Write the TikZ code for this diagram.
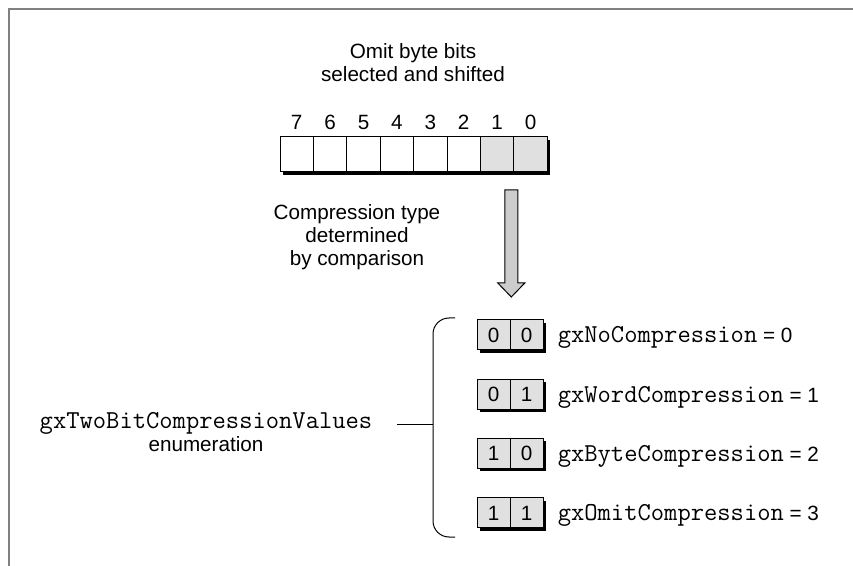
\documentclass[tikz,border=0pt]{standalone}
\usepackage{fontspec}
\setmainfont{Liberation Sans}
\setmonofont[Scale=1.25]{Latin Modern Mono}
\usetikzlibrary{shadows,calc}

\begin{document}
\begin{tikzpicture}[x=0.75pt,y=-0.75pt,
    every node/.style={font=\fontsize{15.5}{17.25}\selectfont},
    bitcell/.style={draw,line width=0.75pt,fill=white,inner sep=0pt,
      minimum width=25.05pt,minimum height=26.25pt,
      drop shadow={shadow xshift=2pt,shadow yshift=-2pt,opacity=1,fill=black}},
    pickcell/.style={bitcell,fill=black!12},
    valcell/.style={bitcell,fill=black!12,minimum width=24.75pt,minimum height=22.5pt},
    frameline/.style={draw=black!50,line width=1pt}]

  \useasboundingbox (0,0) rectangle (853,566);
  \draw[frameline] (9,566) -- (9,9) -- (853,9);

  \path (413,63) node [align=center](title){Omit byte bits\\selected and shifted};

  % the byte, bit 7 on the left
  \foreach \bit in {7,...,0}{
    \pgfmathsetmacro{\cx}{280+33.4*(7-\bit+0.5)}
    \ifnum\bit<2
      \path (\cx,154.5) node [pickcell](bit_\bit){};
    \else
      \path (\cx,154.5) node [bitcell](bit_\bit){};
    \fi
    \path (\cx,122) node (num_\bit){\bit};
  }

  \path (357,237) node [align=center](note){Compression type\\determined\\by comparison};

  % fat arrow from the two low bits down to the values
  \coordinate (arr_top) at ($(bit_0.west)+(-2,35.5)$);
  \coordinate (arr_tip) at ($(arr_top)+(0,107)$);
  \draw[fill=black!20,line width=0.75pt]
    ($(arr_top)+(-6.5,0)$) -- ($(arr_top)+(6.5,0)$) -- ($(arr_tip)+(6.5,-14)$)
    -- ($(arr_tip)+(13.5,-14)$) -- (arr_tip) -- ($(arr_tip)+(-13.5,-14)$)
    -- ($(arr_tip)+(-6.5,-14)$) -- cycle;

  % two-bit values
  \foreach \hi/\lo/\name [count=\row from 0] in {0/0/No,0/1/Word,1/0/Byte,1/1/Omit}{
    \pgfmathsetmacro{\cy}{335+59.3*\row}
    \path (493.5,\cy) node [valcell](hi_\row){\hi};
    \path (526.5,\cy) node [valcell](lo_\row){\lo};
    \path ($(hi_\row.west)+(81,8)$) node [anchor=base west,inner sep=0pt](val_\row)
      {\texttt{gx\name Compression} = \row};
  }

  % brace round the values
  \coordinate (br_top) at (455,318);
  \coordinate (br_bot) at (455,537);
  \coordinate (br_mid) at (433,424);
  \coordinate (enum_tick) at (397,424);
  \draw[line width=0.75pt,rounded corners=12] (br_top) -- (433,318) -- (433,537) -- (br_bot);

  \path (206,432) node [align=center](enum){\texttt{gxTwoBitCompressionValues}\\enumeration};
  \draw[line width=0.75pt] (br_mid) -- (enum_tick);

\end{tikzpicture}
\end{document}
